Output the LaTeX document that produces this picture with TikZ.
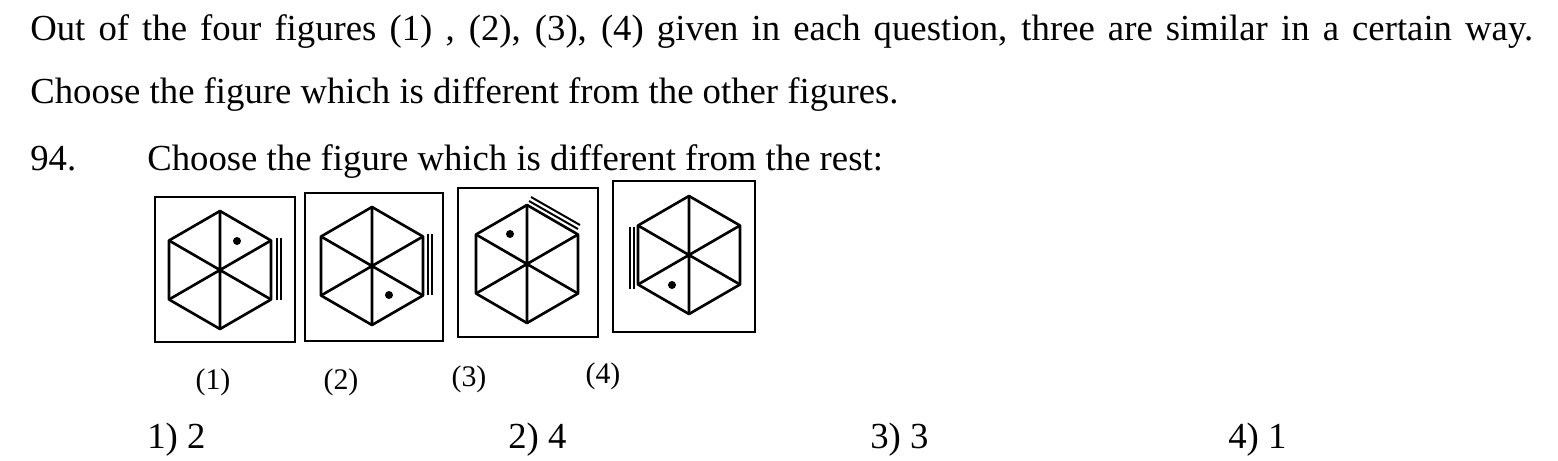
\documentclass[tikz,border=0pt]{standalone}
\usepackage{fontspec}
\setmainfont{Liberation Serif}
\begin{document}
\begin{tikzpicture}[x=0.02cm, y=-0.02cm,
  txt/.style={anchor=base west, inner sep=0pt, font=\fontsize{20.9}{24}\selectfont},
  figlabel/.style={anchor=base, inner sep=0pt, font=\fontsize{17}{19}\selectfont},
  figbox/.style={draw, line width=1.6pt},
  hexline/.style={line width=1.5pt, line join=round},
  marks/.style={line width=1.1pt},
  spot/.style={fill=black}]
\useasboundingbox (0,0) rectangle (1558,460);
% question text
\node[txt] (lineA) at (30,40) {\makebox[30.06cm][s]{Out of the four figures (1) , (2), (3), (4) given in each question, three are similar in a certain way.}};
\node[txt] (lineB) at (30,103) {Choose the figure which is different from the other figures.};
\node[txt] (qnum) at (30,170) {94.};
\node[txt] (qtext) at (147,170) {Choose the figure which is different from the rest:};
% frames
\draw[figbox] (155,197) rectangle (295,342);
\draw[figbox] (305,193) rectangle (443,341);
\draw[figbox] (458,188) rectangle (598,337);
\draw[figbox] (613,181) rectangle (755,332);
% hexagons with their diagonals
\foreach \cx/\cy in {220/270, 372/266, 527/264, 689/255} {
  \begin{scope}[shift={(\cx,\cy)}]
    \draw[hexline] (0,-59) -- (51,-29.5) -- (51,29.5) -- (0,59) -- (-51,29.5) -- (-51,-29.5) -- cycle;
    \draw[hexline] (0,-59) -- (0,59) (51,-29.5) -- (-51,29.5) (51,29.5) -- (-51,-29.5);
  \end{scope}
}
% dots
\fill[spot] (237,241) circle[radius=4];
\fill[spot] (389,295) circle[radius=4];
\fill[spot] (510,234) circle[radius=4];
\fill[spot] (672,285) circle[radius=4];
% double strokes
\draw[marks] (277,238) -- (277,300) (281,238) -- (281,300);
\draw[marks] (428,234) -- (428,295) (432,234) -- (432,295);
\draw[marks] (531,197) -- (580,225) (529,201) -- (578,229);
\draw[marks] (630,227) -- (630,289) (634,227) -- (634,289);
% figure labels
\node[figlabel] (lab1) at (213,389) {(1)};
\node[figlabel] (lab2) at (341,389) {(2)};
\node[figlabel] (lab3) at (469,386) {(3)};
\node[figlabel] (lab4) at (603,383) {(4)};
% answer options
\node[txt] (opt1) at (147,448) {1) 2};
\node[txt] (opt2) at (508,448) {2) 4};
\node[txt] (opt3) at (870,448) {3) 3};
\node[txt] (opt4) at (1228,448) {4) 1};
\end{tikzpicture}
\end{document}
